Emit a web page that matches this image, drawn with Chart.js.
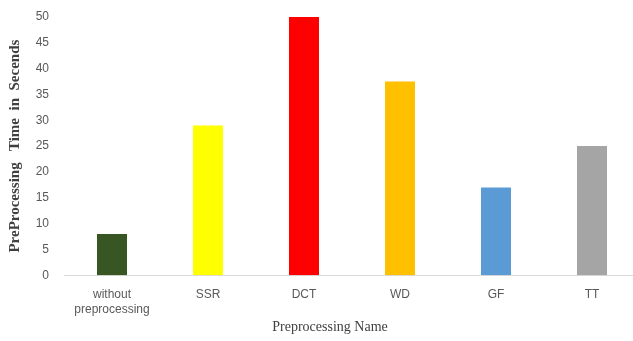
<!DOCTYPE html>
<html>
<head>
<meta charset="utf-8">
<script src="https://cdn.jsdelivr.net/npm/chart.js@4/dist/chart.umd.min.js"></script>
<style>
	html, body { margin: 0; padding: 0; background: #fff; overflow: hidden; }
	#wrap { width: 660px; height: 341px; }
</style>
</head>
<body>
<div id="wrap"><canvas id="timeChart" width="660" height="341"></canvas></div>
<script>
// Время предобработки для каждого метода, секунды
const methods = [['without', 'preprocessing'], 'SSR', 'DCT', 'WD', 'GF', 'TT'];
const seconds = [8, 29, 50, 37.5, 17, 25];
const barColors = ['#375623', '#FFFF00', '#FF0000', '#FFC000', '#5B9BD5', '#A5A5A5'];
const yTicks = [0, 5, 10, 15, 20, 25, 30, 35, 40, 45, 50];

const tickFont = { family: '"Liberation Sans", Arial, sans-serif', size: 12 };
const serif = '"Liberation Serif", "Times New Roman", serif';

const ctx = document.getElementById('timeChart').getContext('2d');

const chart = new Chart(ctx, {
	type: 'bar',
	data: {
		labels: methods,
		datasets: [
			{
				data: seconds,
				backgroundColor: barColors,
				borderWidth: 0,
				barPercentage: 0.3125,
				categoryPercentage: 1
			}
		]
	},
	options: {
		responsive: false,
		animation: false,
		// слева 20, чтобы подпись снизу встала по центру 330
		layout: { padding: { top: 17, right: 20, left: 20, bottom: 0 } },
		plugins: {
			legend: { display: false },
			tooltip: { enabled: false },
			title: {
				display: true,
				position: 'bottom',
				text: 'Preprocessing Name',
				color: '#404040',
				font: { family: serif, size: 14, weight: 'normal' },
				padding: { top: 0, bottom: 5 }
			}
		},
		scales: {
			x: {
				grid: { display: false },
				border: { display: true, color: '#d9d9d9', width: 1 },
				ticks: {
					color: '#595959',
					font: Object.assign({ lineHeight: 1.25 }, tickFont),
					padding: 4,
					maxRotation: 0
				},
				afterFit: scale => {
					scale.height = 44;
					scale.paddingLeft = 0;
					scale.paddingRight = 0;
				}
			},
			y: {
				min: 0,
				max: 50,
				afterBuildTicks: scale => { scale.ticks = yTicks.map(v => ({ value: v })); },
				grid: { display: false },
				border: { display: false },
				ticks: {
					color: '#595959',
					font: tickFont,
					padding: 7
				},
				title: {
					display: true,
					text: 'PreProcessing   Time  in  Secends',
					color: '#404040',
					font: { family: serif, size: 15, weight: 'bold' },
					padding: { top: -14, bottom: 0 }
				},
				afterFit: scale => {
					scale.width = 44;
					scale.paddingTop = 0;
					scale.paddingBottom = 0;
				}
			}
		}
	}
});
</script>
</body>
</html>
